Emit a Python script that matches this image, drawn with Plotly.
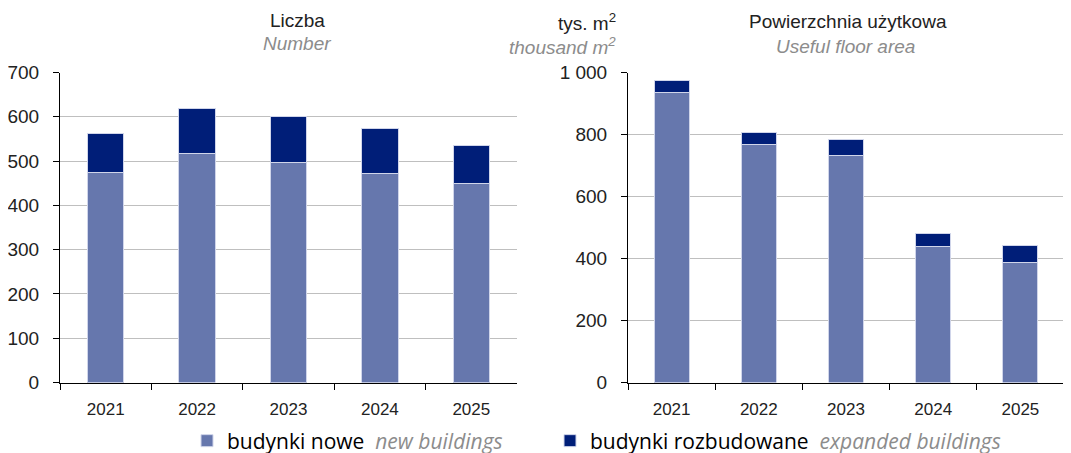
import plotly.graph_objects as go

years = ["2021", "2022", "2023", "2024", "2025"]

# Liczba / Number
count_new = [474, 518, 497, 471, 449]
count_expanded = [88, 100, 104, 103, 86]

# Powierzchnia użytkowa / Useful floor area (tys. m2)
area_new = [936, 767, 732, 438, 387]
area_expanded = [38, 39, 51, 44, 55]

LIGHT = "#6677ad"
DARK = "#001e78"
EDGE = "#d0d5ea"
TXT = "#222222"
GREY = "#8c8c8c"
FONT = "Liberation Sans, Arial, sans-serif"
LEGFONT = "Open Sans, Noto Sans, sans-serif"

# page has an 8px body margin, so the figure is drawn 8px smaller and positions shifted
OFF = 8
W, H = 1071 - OFF, 453 - OFF


def px(x):
    return (x - OFF) / W


def py(y):
    return 1 - (y - OFF) / H


fig = go.Figure()

fig.add_trace(go.Bar(x=years, y=count_new, marker=dict(color=LIGHT, line=dict(color=EDGE, width=1)),
                     name=f"budynki nowe  <i><span style='color:{GREY}'>new buildings</span></i>",
                     xaxis="x", yaxis="y", legend="legend"))
fig.add_trace(go.Bar(x=years, y=count_expanded, marker=dict(color=DARK, line=dict(color=EDGE, width=1)),
                     name=f"budynki rozbudowane  <i><span style='color:{GREY}'>expanded buildings</span></i>",
                     xaxis="x", yaxis="y", legend="legend2"))
fig.add_trace(go.Bar(x=years, y=area_new, marker=dict(color=LIGHT, line=dict(color=EDGE, width=1)),
                     xaxis="x2", yaxis="y2", showlegend=False))
fig.add_trace(go.Bar(x=years, y=area_expanded, marker=dict(color=DARK, line=dict(color=EDGE, width=1)),
                     xaxis="x2", yaxis="y2", showlegend=False))

ydom = [py(382.5), py(72.5)]

xcommon = dict(type="category", tickson="boundaries", ticks="outside", ticklen=6,
               tickcolor="#000", showline=True, linecolor="#000", linewidth=1,
               tickfont=dict(size=17, color=TXT), ticklabelstandoff=11, showgrid=False,
               automargin=False)
ycommon = dict(ticks="outside", ticklen=6, tickcolor="#000", showline=True, linecolor="#000",
               linewidth=1, showgrid=True, gridcolor="#bfbfbf", gridwidth=1, zeroline=False,
               tickfont=dict(size=19, color=TXT), ticklabelstandoff=10, automargin=False)

legcommon = dict(orientation="h", xref="container", yref="container", xanchor="left",
                 yanchor="middle", font=dict(size=21, color="#000", family=LEGFONT),
                 itemwidth=30, bgcolor="rgba(0,0,0,0)")

fig.update_layout(
    template="none",
    width=W, height=H,
    barmode="stack", bargap=0.6,
    separators=", ",
    plot_bgcolor="white", paper_bgcolor="white",
    margin=dict(l=0, r=0, t=0, b=0, autoexpand=False),
    font=dict(family=FONT, color=TXT),
    xaxis=dict(domain=[px(60), px(517)], anchor="y", **xcommon),
    yaxis=dict(domain=ydom, anchor="x", range=[0, 700], dtick=100, **ycommon),
    xaxis2=dict(domain=[px(628), px(1064)], anchor="y2", **xcommon),
    yaxis2=dict(domain=ydom, anchor="x2", range=[0, 1000], dtick=200, tickformat=",d", **ycommon),
    legend=dict(x=px(187), y=py(441), **legcommon),
    legend2=dict(x=px(550), y=py(441), **legcommon),
)

titles = [
    ("Liczba", 297, 20, TXT, "center"),
    ("<i>Number</i>", 297, 44, GREY, "center"),
    ("Powierzchnia użytkowa", 848, 22, TXT, "center"),
    ("<i>Useful floor area</i>", 845, 46, GREY, "center"),
    ("tys. m<sup>2</sup>", 618, 22, TXT, "right"),
    ("<i>thousand m<sup>2</sup></i>", 618, 46, GREY, "right"),
]
for text, x, y, color, anchor in titles:
    fig.add_annotation(text=text, x=px(x), y=py(y), xref="paper", yref="paper",
                       xanchor=anchor, yanchor="middle", showarrow=False,
                       font=dict(size=19, color=color, family=FONT))

fig.write_html("out.html")
